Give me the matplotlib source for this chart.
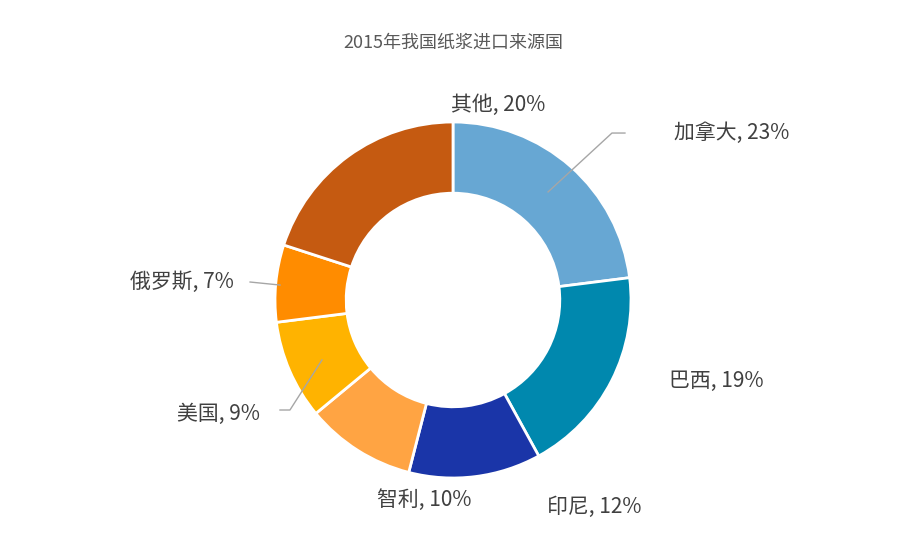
import matplotlib.pyplot as plt

plt.rcParams['font.family'] = 'sans-serif'
plt.rcParams['font.sans-serif'] = ['Noto Sans CJK SC', 'Noto Sans CJK JP', 'Noto Sans CJK TC',
                                   'Noto Sans CJK KR', 'DejaVu Sans']

names = ['加拿大', '巴西', '印尼', '智利', '美国', '俄罗斯', '其他']
shares = [23, 19, 12, 10, 9, 7, 20]
colors = ['#67A7D3', '#0088AE', '#1A35A8', '#FFA443', '#FFB300', '#FF8C00', '#C55A11']

# label text positions (data units, radius = 1)
label_pos = [(1.567, 0.938), (1.478, -0.455), (0.792, -1.163), (-0.163, -1.124),
             (-1.315, -0.640), (-1.522, 0.101), (0.253, 1.096)]

W, H, cx, cy, r = 906, 539, 453, 300, 178
fig = plt.figure(figsize=(W / 100, H / 100), dpi=100)
ax = fig.add_axes([0, 0, 1, 1])

ax.pie(shares, colors=colors, startangle=90, counterclock=False, radius=1,
       wedgeprops=dict(width=0.4, edgecolor='white', linewidth=2), center=(0, 0),
       frame=True)
ax.set_xlim(-cx / r, (W - cx) / r)
ax.set_ylim(-(H - cy) / r, cy / r)
ax.set_aspect('auto')
ax.axis('off')

for n, s, (x, y) in zip(names, shares, label_pos):
    ax.text(x, y, '%s, %d%%' % (n, s), fontsize=15, color='#404040',
            ha='center', va='center')

# leader lines
ax.plot([0.534, 0.893, 0.966], [0.607, 0.938, 0.938], color='#A6A6A6', lw=1)
ax.plot([-0.736, -0.916, -0.972], [-0.337, -0.618, -0.618], color='#A6A6A6', lw=1)
ax.plot([-1.140, -0.972], [0.101, 0.084], color='#A6A6A6', lw=1)

ax.text(0, (cy - 43) / r, '2015年我国纸浆进口来源国', fontsize=13, color='#595959',
        ha='center', va='center')

fig.savefig('out.png', dpi=100)
